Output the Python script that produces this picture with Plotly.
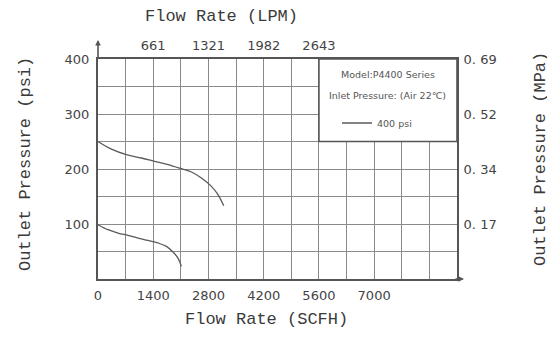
import plotly.graph_objects as go

# ---- data ----
upper_flow_scfh = [0, 340, 720, 1100, 1437, 1775, 2114, 2368, 2621, 2875, 3042, 3187]
upper_pressure_psi = [250, 236, 226, 220, 214, 208, 200.5, 194.5, 183.6, 168.4, 153.3, 133]
lower_flow_scfh = [0, 253, 507, 760, 1014, 1268, 1521, 1734, 1901, 2028, 2114]
lower_pressure_psi = [98.7, 89.6, 83.6, 79.3, 74.5, 70.2, 65.5, 59.3, 49, 38, 23]

bottom_tick_vals = [0, 1400, 2800, 4200, 5600, 7000]
bottom_tick_text = ["0", "1400", "2800", "4200", "5600", "7000"]
top_tick_vals = [1400, 2800, 4200, 5600]
top_tick_text = ["661", "1321", "1982", "2643"]
left_tick_vals = [100, 200, 300, 400]
left_tick_text = ["100", "200", "300", "400"]
right_tick_text = ["0. 17", "0. 34", "0. 52", "0. 69"]

X_MAX = 9100
Y_MAX = 400

# page body has an 8px margin; figure coordinates are offset accordingly
OFF = 8
FIG_W, FIG_H = 547, 348
L, T = 98 - OFF, 59 - OFF
PW, PH = 359, 220
R = FIG_W - L - PW
B = FIG_H - T - PH


def px_to_paper_x(px):
    return (px - OFF - L) / PW


def px_to_paper_y(py):
    return (T + PH - (py - OFF)) / PH


GRID = "#8a8a8a"
AXIS = "#555555"
TXT = "#444444"
CURVE = "#5a5a5a"
TICKFONT = dict(family="DejaVu Sans", size=13, color=TXT)
TITLEFONT = dict(family="Liberation Mono", size=17, color="#3a3a3a")
BOXFONT = dict(family="DejaVu Sans", size=9.5, color="#555555")

fig = go.Figure()
fig.add_trace(go.Scatter(x=upper_flow_scfh, y=upper_pressure_psi, mode="lines",
                         line=dict(color=CURVE, width=1.3, shape="spline"),
                         name="400 psi", showlegend=True))
fig.add_trace(go.Scatter(x=lower_flow_scfh, y=lower_pressure_psi, mode="lines",
                         line=dict(color=CURVE, width=1.3, shape="spline"),
                         name="lower", showlegend=False))
# invisible traces to activate secondary axes
fig.add_trace(go.Scatter(x=[0], y=[0], xaxis="x2", yaxis="y", mode="markers",
                         marker=dict(opacity=0), showlegend=False, hoverinfo="skip"))
fig.add_trace(go.Scatter(x=[0], y=[0], xaxis="x", yaxis="y2", mode="markers",
                         marker=dict(opacity=0), showlegend=False, hoverinfo="skip"))

fig.update_layout(
    width=FIG_W, height=FIG_H, autosize=False,
    margin=dict(l=L, r=R, t=T, b=B, pad=0),
    paper_bgcolor="white", plot_bgcolor="white",
    xaxis=dict(range=[0, X_MAX], tickmode="array", tickvals=bottom_tick_vals,
               ticktext=bottom_tick_text, tickfont=TICKFONT, ticks="", ticklabelstandoff=3,
               showgrid=True, gridcolor=GRID, gridwidth=1.4,
               minor=dict(tickmode="linear", tick0=0, dtick=700, showgrid=True,
                          gridcolor=GRID, gridwidth=1.4),
               showline=True, linecolor=AXIS, linewidth=2, zeroline=False),
    xaxis2=dict(range=[0, X_MAX], overlaying="x", side="top", tickmode="array",
                tickvals=top_tick_vals, ticktext=top_tick_text, tickfont=TICKFONT,
                ticks="", ticklabelstandoff=2, showgrid=False, showline=True,
                linecolor=AXIS, linewidth=2, zeroline=False),
    yaxis=dict(range=[0, Y_MAX], tickmode="array", tickvals=left_tick_vals,
               ticktext=left_tick_text, tickfont=TICKFONT, ticks="", ticklabelstandoff=4,
               showgrid=True, gridcolor=GRID, gridwidth=1.4,
               minor=dict(tickmode="linear", tick0=0, dtick=50, showgrid=True,
                          gridcolor=GRID, gridwidth=1.4),
               showline=True, linecolor=AXIS, linewidth=2, zeroline=False),
    yaxis2=dict(range=[0, Y_MAX], overlaying="y", side="right", tickmode="array",
                tickvals=left_tick_vals, ticktext=right_tick_text, tickfont=TICKFONT,
                ticks="", ticklabelstandoff=2, showgrid=False, showline=True,
                linecolor=AXIS, linewidth=2, zeroline=False),
    legend=dict(x=px_to_paper_x(337), y=px_to_paper_y(123), xanchor="left", yanchor="middle",
                bgcolor="rgba(0,0,0,0)", font=BOXFONT, itemwidth=30),
    showlegend=True,
)

# legend box covering grid
fig.add_shape(type="rect", xref="x", yref="y", x0=5600, x1=X_MAX, y0=250, y1=Y_MAX,
              fillcolor="white", line=dict(color=AXIS, width=1.6), layer="above")

# legend box texts
fig.add_annotation(x=(5600 + X_MAX) / 2, y=372, xref="x", yref="y", showarrow=False,
                   text="Model:P4400 Series", font=BOXFONT)
fig.add_annotation(x=(5600 + X_MAX) / 2, y=333, xref="x", yref="y", showarrow=False,
                   text="Inlet Pressure: (Air 22℃)", font=BOXFONT)

# axis titles
fig.add_annotation(x=px_to_paper_x(221), y=px_to_paper_y(16.5), xref="paper", yref="paper",
                   yanchor="middle", xanchor="center", showarrow=False,
                   text="Flow Rate (LPM)", font=TITLEFONT)
fig.add_annotation(x=px_to_paper_x(266), y=px_to_paper_y(319), xref="paper", yref="paper",
                   yanchor="middle", xanchor="center", showarrow=False,
                   text="Flow Rate (SCFH)", font=TITLEFONT)
fig.add_annotation(x=px_to_paper_x(25), y=px_to_paper_y(164), xref="paper", yref="paper",
                   yanchor="middle", xanchor="center", showarrow=False, textangle=-90,
                   text="Outlet Pressure (psi)", font=TITLEFONT)
fig.add_annotation(x=px_to_paper_x(540), y=px_to_paper_y(159), xref="paper", yref="paper",
                   yanchor="middle", xanchor="center", showarrow=False, textangle=-90,
                   text="Outlet Pressure (MPa)", font=TITLEFONT)

# axis arrows
fig.add_annotation(x=0, y=px_to_paper_y(40), xref="x", yref="paper", ax=0, ay=20,
                   showarrow=True, arrowhead=2, arrowsize=0.7, arrowwidth=1.6,
                   arrowcolor=AXIS, text="")
fig.add_annotation(x=px_to_paper_x(464), y=0, xref="paper", yref="y", ax=-10, ay=0,
                   showarrow=True, arrowhead=2, arrowsize=0.7, arrowwidth=1.6,
                   arrowcolor=AXIS, text="")

fig.write_html("out.html")
